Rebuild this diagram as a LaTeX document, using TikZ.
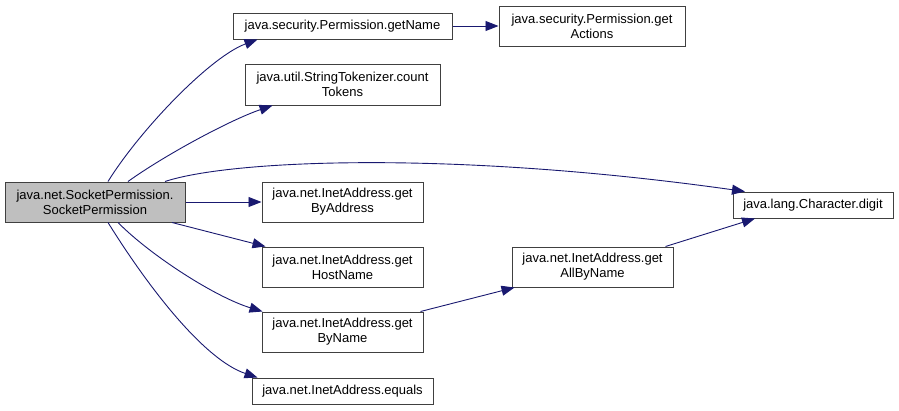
\documentclass[tikz,border=0pt]{standalone}
\usepackage{fontspec}
\setmainfont{Liberation Sans}
\usetikzlibrary{arrows.meta}
\definecolor{edgecol}{HTML}{191970}
\definecolor{boxline}{HTML}{404040}
\definecolor{mainfill}{HTML}{BFBFBF}
\tikzset{
  fn/.style={draw=boxline, line width=1pt, rectangle, inner sep=0pt, align=center,
    font=\fontsize{13}{15}\selectfont, text=black},
  mainfn/.style={fn, fill=mainfill},
  call/.style={draw=edgecol, line width=0.9pt, -{Triangle[length=13pt,width=10pt]}}
}
\begin{document}
\begin{tikzpicture}[x=1pt,y=-1pt]
\useasboundingbox (0,0) rectangle (899,410);
\node[mainfn, minimum width=180pt, minimum height=40pt] (A) at (95,202) {java.net.SocketPermission.\\SocketPermission};
\node[fn, minimum width=219pt, minimum height=26pt] (B) at (342.5,26) {java.security.Permission.getName};
\node[fn, minimum width=186pt, minimum height=40pt] (C) at (592,26) {java.security.Permission.get\\Actions};
\node[fn, minimum width=195pt, minimum height=41pt] (D) at (342.5,84.5) {java.util.StringTokenizer.count\\Tokens};
\node[fn, minimum width=160pt, minimum height=26pt] (E) at (813,205) {java.lang.Character.digit};
\node[fn, minimum width=161pt, minimum height=40pt] (F) at (342.5,202) {java.net.InetAddress.get\\ByAddress};
\node[fn, minimum width=161pt, minimum height=40pt] (G) at (342.5,267) {java.net.InetAddress.get\\HostName};
\node[fn, minimum width=161pt, minimum height=40pt] (H) at (592.5,267) {java.net.InetAddress.get\\AllByName};
\node[fn, minimum width=161pt, minimum height=40pt] (I) at (342.5,332) {java.net.InetAddress.get\\ByName};
\node[fn, minimum width=181pt, minimum height=26pt] (J) at (342.5,391) {java.net.InetAddress.equals};

\draw[call] ([xshift=13pt]A.north) .. controls (140,130) and (210,57) .. ([xshift=-85pt]B.south);
\draw[call] ([xshift=33pt]A.north) .. controls (165,155) and (230,120) .. ([xshift=-70pt]D.south);
\draw[call] ([xshift=70pt]A.north) .. controls (230,160) and (450,150) .. ([xshift=-68pt]E.north);
\draw[call] (A.east) -- (F.west);
\draw[call] ([xshift=77pt]A.south) -- ([xshift=-77pt]G.north);
\draw[call] ([xshift=23pt]A.south) .. controls (150,255) and (215,297) .. ([xshift=-80pt]I.north);
\draw[call] ([xshift=13pt]A.south) .. controls (150,290) and (205,360) .. ([xshift=-85pt]J.north);
\draw[call] (B.east) -- (C.west);
\draw[call] ([xshift=73pt]H.north) -- ([xshift=-58pt]E.south);
\draw[call] ([xshift=78pt]I.north) -- ([xshift=-78pt]H.south);
\end{tikzpicture}
\end{document}
